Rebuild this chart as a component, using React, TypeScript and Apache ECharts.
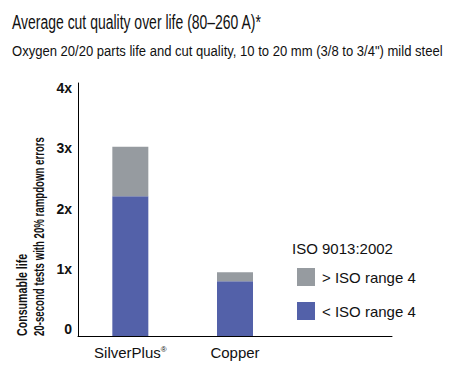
import React, { useEffect, useRef } from "react";
import * as echarts from "echarts";

const categories = ["SilverPlus®", "Copper", ""];
const belowIso = [2.32, 0.91, null];
const aboveIso = [0.82, 0.15, null];
const seriesNames = ["< ISO range 4", "> ISO range 4"];
const yTicks = [0, 1, 2, 3, 4];

const BLUE = "#5361a9";
const GRAY = "#969ba0";

export default function App() {
  const ref = useRef<HTMLDivElement>(null);
  useEffect(() => {
    const chart = echarts.init(ref.current!, null, { renderer: "svg" });
    chart.setOption({
      animation: false,
      grid: { left: 78, top: 83, width: 314, height: 253, containLabel: false },
      xAxis: {
        type: "category",
        data: categories,
        axisLine: { lineStyle: { color: "#000", width: 1 } },
        axisTick: { show: false },
        axisLabel: {
          interval: 0,
          margin: 9,
          color: "#111",
          fontSize: 15,
          fontFamily: "'Liberation Sans', Arial, sans-serif",
          formatter: (v: string) => (v.endsWith("®") ? `{a|${v.slice(0, -1)}}{s|®}` : `{a|${v}}`),
          rich: {
            a: { fontSize: 15, fontFamily: "'Liberation Sans', Arial, sans-serif", color: "#111" },
            s: { fontSize: 8, fontFamily: "'Liberation Sans', Arial, sans-serif", color: "#111", padding: [0, 0, 7, 0] },
          },
        },
      },
      yAxis: {
        type: "value",
        min: 0,
        max: 4.2,
        interval: 1,
        splitLine: { show: false },
        axisTick: { show: false },
        axisLine: { show: true, lineStyle: { color: "#000", width: 1 } },
        axisLabel: {
          margin: 6,
          verticalAlign: "bottom",
          color: "#111",
          fontSize: 14,
          fontWeight: "bold",
          fontFamily: "'Liberation Sans Narrow', 'Liberation Sans', Arial, sans-serif",
          showMaxLabel: false,
          formatter: (v: number) => (yTicks.includes(v) ? (v === 0 ? "0" : `${v}x`) : ""),
        },
      },
      legend: {
        data: [seriesNames[1], seriesNames[0]],
        orient: "vertical",
        left: 292,
        top: 263,
        itemWidth: 18,
        itemHeight: 18,
        itemGap: 16,
        icon: "rect",
        selectedMode: false,
        textStyle: { fontSize: 15, color: "#111", fontFamily: "'Liberation Sans', Arial, sans-serif", padding: [0, 0, 0, 2] },
      },
      series: [
        {
          name: seriesNames[0],
          type: "bar",
          stack: "life",
          barWidth: 36,
          data: belowIso,
          itemStyle: { color: BLUE },
        },
        {
          name: seriesNames[1],
          type: "bar",
          stack: "life",
          barWidth: 36,
          data: aboveIso,
          itemStyle: { color: GRAY },
        },
      ],
      graphic: [
        {
          type: "text",
          x: 12,
          y: 22,
          scaleX: 0.665,
          style: {
            text: "Average cut quality over life (80–260 A)*",
            fontSize: 21,
            fontFamily: "'Liberation Sans', Arial, sans-serif",
            fill: "#111",
            verticalAlign: "middle",
            align: "left",
          },
        },
        {
          type: "text",
          x: 12,
          y: 51,
          scaleX: 0.87,
          style: {
            text: "Oxygen 20/20 parts life and cut quality, 10 to 20 mm (3/8 to 3/4\") mild steel",
            fontSize: 15,
            fontFamily: "'Liberation Sans', Arial, sans-serif",
            fill: "#111",
            verticalAlign: "middle",
            align: "left",
          },
        },
        {
          type: "text",
          x: 22,
          y: 336,
          rotation: Math.PI / 2,
          scaleX: 0.76,
          style: {
            text: "Consumable life",
            fontSize: 14,
            fontWeight: "bold",
            fontFamily: "'Liberation Sans', Arial, sans-serif",
            fill: "#111",
            verticalAlign: "middle",
            align: "left",
          },
        },
        {
          type: "text",
          x: 39,
          y: 336,
          rotation: Math.PI / 2,
          scaleX: 0.69,
          style: {
            text: "20-second tests with 20% rampdown errors",
            fontSize: 14,
            fontWeight: "bold",
            fontFamily: "'Liberation Sans', Arial, sans-serif",
            fill: "#111",
            verticalAlign: "middle",
            align: "left",
          },
        },
        {
          type: "text",
          x: 292,
          y: 248,
          style: {
            text: "ISO 9013:2002",
            fontSize: 15,
            fontFamily: "'Liberation Sans', Arial, sans-serif",
            fill: "#111",
            verticalAlign: "middle",
            align: "left",
          },
        },
      ],
    });
    return () => chart.dispose();
  }, []);
  return <div ref={ref} style={{ width: 464, height: 376, position: "absolute", left: 0, top: 0 }} />;
}
